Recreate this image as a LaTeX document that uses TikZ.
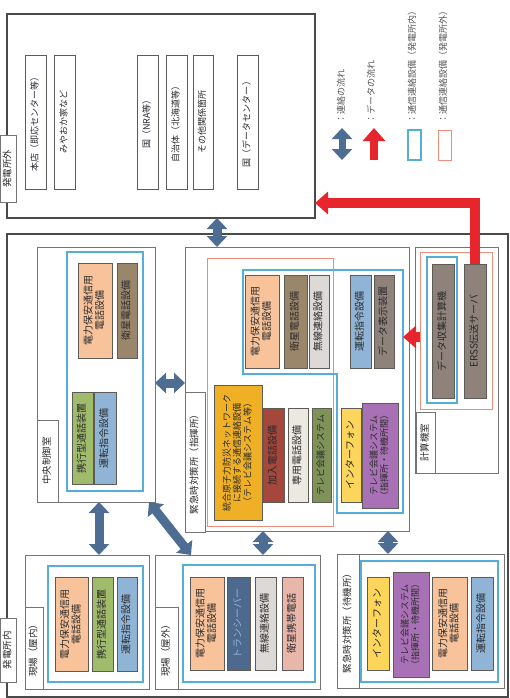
\documentclass[tikz,border=0pt]{standalone}
\usepackage{fontspec}
\setmainfont{Noto Sans CJK JP}
\usepackage{graphicx}
\usetikzlibrary{arrows.meta,calc}

\definecolor{sitegray}{HTML}{4A4A4A}
\definecolor{roomgray}{HTML}{747474}
\definecolor{devline}{HTML}{5E5A56}
\definecolor{inblue}{HTML}{55AED6}
\definecolor{outred}{HTML}{EE8C7A}
\definecolor{linkblue}{HTML}{4E6D93}
\definecolor{datared}{HTML}{E6262C}
\definecolor{orng}{HTML}{F8C39B}
\definecolor{brwn}{HTML}{9A876B}
\definecolor{grn}{HTML}{A0BB6B}
\definecolor{blu}{HTML}{8FB4D6}
\definecolor{lgray}{HTML}{DDD9D6}
\definecolor{cream}{HTML}{EBE9E0}
\definecolor{gold}{HTML}{EFB025}
\definecolor{dred}{HTML}{A5473B}
\definecolor{olive}{HTML}{7F9359}
\definecolor{yllw}{HTML}{FCD55A}
\definecolor{purp}{HTML}{A971B5}
\definecolor{stone}{HTML}{8E827B}
\definecolor{navy}{HTML}{4D6A8E}
\definecolor{pink}{HTML}{E9B6AA}
\definecolor{txt}{HTML}{2A2A2A}

\newcommand{\vt}[1]{\rotatebox{90}{\begin{tabular}{@{}c@{}}#1\end{tabular}}}
\renewcommand{\arraystretch}{0.92}

\begin{document}
\begin{tikzpicture}[x=1pt,y=-1pt]
   \tikzstyle{every node}=[inner sep=0pt, outer sep=0pt, anchor=north west, text=txt, font=\fontsize{10}{11}\selectfont]
   \tikzstyle{site}=[draw=sitegray, line width=1.6pt]
   \tikzstyle{room}=[draw=roomgray, line width=0.9pt, fill=white]
   \tikzstyle{tag}=[draw=roomgray, line width=0.8pt, fill=white, font=\fontsize{9.5}{10}\selectfont]
   \tikzstyle{inside}=[draw=inblue, line width=1.1pt]
   \tikzstyle{outside}=[draw=outred, line width=1pt]
   \tikzstyle{dev}=[draw=devline, line width=0.8pt]
   \tikzstyle{small}=[font=\fontsize{9}{10}\selectfont]
   \tikzstyle{legend}=[anchor=south, text=txt!80, font=\fontsize{9}{10}\selectfont]
   \tikzstyle{link}=[draw=linkblue, line width=9pt, {Triangle[length=11pt,width=20pt]}-{Triangle[length=11pt,width=20pt]}]
   \tikzstyle{data}=[draw=datared, line width=10pt, -{Triangle[length=13pt,width=22pt]}]

\useasboundingbox (0,0) rectangle (510,698);

% outside the plant
\node[site, minimum width=308pt, minimum height=204pt] (gai) at (7,14) {};
\node[tag, minimum width=16pt, minimum height=67pt] (gaitag) at (0,135) {\vt{発電所外}};
\node[dev, fill=white, small, minimum width=21pt, minimum height=134pt] (honten) at (25,55) {\vt{本店（即応センター等）}};
\node[dev, fill=white, small, minimum width=21pt, minimum height=134pt] (miyao) at (54,55) {\vt{みやおか家など}};
\node[dev, fill=white, small, minimum width=21pt, minimum height=134pt] (nra) at (137,55) {\vt{国（NRA等）}};
\node[dev, fill=white, small, minimum width=21pt, minimum height=134pt] (jichi) at (166,55) {\vt{自治体（北海道等）}};
\node[dev, fill=white, small, minimum width=20pt, minimum height=134pt] (sonota) at (193,55) {\vt{その他関係箇所}};
\node[dev, fill=white, small, minimum width=21pt, minimum height=134pt] (dc) at (237,55) {\vt{国（データセンター）}};

% legend
\coordinate (l1a) at (342,128);
\coordinate (l1b) at (342,160);
\coordinate (l2a) at (374,128);
\coordinate (l2b) at (374,160);
\draw[link, line width=7pt] (l1a) -- (l1b);
\draw[data, line width=8pt] (l2b) -- (l2a);
\node[inside, minimum width=13pt, minimum height=30pt] (lin) at (408,130) {};
\node[outside, minimum width=13pt, minimum height=30pt] (lout) at (438,130) {};
\node[legend] (lt1) at (342,124) {\vt{：連絡の流れ}};
\node[legend] (lt2) at (372,124) {\vt{：データの流れ}};
\node[legend] (lt3) at (413,124) {\vt{：通信連絡設備（発電所内）}};
\node[legend] (lt4) at (444,124) {\vt{：通信連絡設備（発電所外）}};

% inside the plant
\node[site, minimum width=501pt, minimum height=463pt] (nai) at (7,234) {};
\node[tag, minimum width=16pt, minimum height=64pt] (naitag) at (0,618) {\vt{発電所内}};

% main control room
\node[room, minimum width=118pt, minimum height=255pt] (ccr) at (37,247) {};
\node[inside, minimum width=76pt, minimum height=239pt] (ccrin) at (67,252) {};
\node[tag, minimum width=21pt, minimum height=82pt] (ccrtag) at (37,420) {\vt{中央制御室}};
\node[dev, fill=orng, minimum width=34pt, minimum height=95pt] (ccr1) at (78,263) {\vt{電力保安通信用\\電話設備}};
\node[dev, fill=brwn, minimum width=20pt, minimum height=95pt] (ccr2) at (117,263) {\vt{衛星電話設備}};
\node[dev, fill=grn, minimum width=21pt, minimum height=92pt] (ccr3) at (72,392) {\vt{携行型通話装置}};
\node[dev, fill=blu, minimum width=22pt, minimum height=92pt] (ccr4) at (94,392) {\vt{運転指令設備}};

% emergency response room (command)
\node[room, minimum width=224pt, minimum height=284pt] (hq) at (185,247) {};
\node[outside, minimum width=126pt, minimum height=268pt] (hqout) at (207,258) {};
\draw[inside] (243,270) -- (403,270) -- (403,513) -- (337,513) -- (337,374) -- (243,374) -- cycle;
\node[tag, minimum width=20pt, minimum height=140pt] (hqtag) at (185,392) {\vt{緊急時対策所（指揮所）}};
\node[dev, fill=orng, minimum width=34pt, minimum height=93pt] (hq1) at (245,275) {\vt{電力保安通信用\\電話設備}};
\node[dev, fill=brwn, minimum width=23pt, minimum height=93pt] (hq2) at (284,275) {\vt{衛星電話設備}};
\node[dev, fill=lgray, minimum width=20pt, minimum height=93pt] (hq3) at (309,275) {\vt{無線連絡設備}};
\node[dev, fill=blu, minimum width=21pt, minimum height=93pt] (hq4) at (350,275) {\vt{運転指令設備}};
\node[dev, fill=stone, minimum width=20pt, minimum height=93pt] (hq5) at (374,275) {\vt{データ表示装置}};
\node[dev, fill=gold, small, minimum width=48pt, minimum height=135pt] (hq6) at (214,385) {\vt{統合原子力防災ネットワーク\\に接続する通信連絡設備\\（テレビ会議システム等）}};
\node[dev, fill=dred, minimum width=21pt, minimum height=94pt] (hq7) at (263,408) {\vt{加入電話設備}};
\node[dev, fill=cream, minimum width=20pt, minimum height=94pt] (hq8) at (288,408) {\vt{専用電話設備}};
\node[dev, fill=olive, small, minimum width=19pt, minimum height=94pt] (hq9) at (312,408) {\vt{テレビ会議システム}};
\node[dev, fill=yllw, minimum width=20pt, minimum height=94pt] (hq10) at (341,408) {\vt{インターフォン}};
\node[dev, fill=purp, small, minimum width=36pt, minimum height=105pt] (hq11) at (362,403) {\vt{テレビ会議システム\\（指揮所・待機所間）}};

% computer room
\node[room, minimum width=83pt, minimum height=226pt] (keisan) at (415,247) {};
\node[outside, minimum width=72pt, minimum height=157pt] (kred) at (420,252) {};
\node[inside, minimum width=30pt, minimum height=146pt] (kblue) at (427,257) {};
\node[tag, minimum width=19pt, minimum height=61pt] (ktag) at (416,412) {\vt{計算機室}};
\node[dev, fill=stone, minimum width=22pt, minimum height=134pt] (k1) at (432,264) {\vt{データ収集計算機}};
\node[dev, fill=stone, minimum width=22pt, minimum height=134pt] (erss) at (464,264) {\vt{ERSS伝送サーバ}};

% field (indoor)
\node[room, minimum width=124pt, minimum height=134pt] (gin) at (25,555) {};
\node[inside, minimum width=95pt, minimum height=116pt] (ginin) at (48,566) {};
\node[tag, minimum width=18pt, minimum height=82pt] (gintag) at (25,607) {\vt{現場（屋内）}};
\node[dev, fill=orng, minimum width=33pt, minimum height=94pt] (gin1) at (55,577) {\vt{電力保安通信用\\電話設備}};
\node[dev, fill=grn, minimum width=21pt, minimum height=94pt] (gin2) at (92,577) {\vt{携行型通話装置}};
\node[dev, fill=blu, minimum width=20pt, minimum height=94pt] (gin3) at (117,577) {\vt{運転指令設備}};

% field (outdoor)
\node[room, minimum width=165pt, minimum height=134pt] (gout) at (155,555) {};
\node[inside, minimum width=132pt, minimum height=117pt] (goutin) at (183,565) {};
\node[tag, minimum width=23pt, minimum height=82pt] (gouttag) at (155,607) {\vt{現場（屋外）}};
\node[dev, fill=orng, minimum width=34pt, minimum height=93pt] (gout1) at (190,577) {\vt{電力保安通信用\\電話設備}};
\node[dev, fill=navy, minimum width=23pt, minimum height=93pt, text=blu] (gout2) at (227,577) {\vt{トランシーバー}};
\node[dev, fill=lgray, minimum width=21pt, minimum height=93pt] (gout3) at (255,577) {\vt{無線連絡設備}};
\node[dev, fill=pink, minimum width=21pt, minimum height=93pt] (gout4) at (282,577) {\vt{衛星携帯電話}};

% emergency response room (standby)
\node[room, minimum width=167pt, minimum height=134pt] (taiki) at (337,554) {};
\node[inside, minimum width=137pt, minimum height=121pt] (taikiin) at (361,561) {};
\node[tag, minimum width=22pt, minimum height=134pt] (taikitag) at (337,554) {\vt{緊急時対策所（待機所）}};
\node[dev, fill=yllw, minimum width=22pt, minimum height=93pt] (t1) at (367,577) {\vt{インターフォン}};
\node[dev, fill=purp, small, minimum width=36pt, minimum height=105pt] (t2) at (393,572) {\vt{テレビ会議システム\\（指揮所・待機所間）}};
\node[dev, fill=orng, minimum width=35pt, minimum height=93pt] (t3) at (432,577) {\vt{電力保安通信用\\電話設備}};
\node[dev, fill=blu, minimum width=22pt, minimum height=93pt] (t4) at (471,577) {\vt{運転指令設備}};

% connections
\coordinate (up) at (217,0);
\coordinate (mid) at (0,383);
\coordinate (gx) at (99,0);
\coordinate (ox) at (263,0);
\coordinate (tx) at (388,0);
\coordinate (dy) at (0,203);
\coordinate (hqb) at (403,337);
\draw[link] (gai.south -| up) -- (hq.north -| up);
\draw[link] (ccr.east |- mid) -- (hq.west |- mid);
\draw[link] (ccr.south -| gx) -- (gin.north -| gx);
\draw[link] ($(ccr.south east)+(-6,0)$) -- ($(gout.north west)+(36,0)$);
\draw[link] (hq.south -| ox) -- (gout.north -| ox);
\draw[link] (hq.south -| tx) -- (taiki.north -| tx);
\draw[data] (erss.north) |- (gai.east |- dy);
\draw[data] (kred.west |- hqb) -- (hqb);

\end{tikzpicture}
\end{document}
